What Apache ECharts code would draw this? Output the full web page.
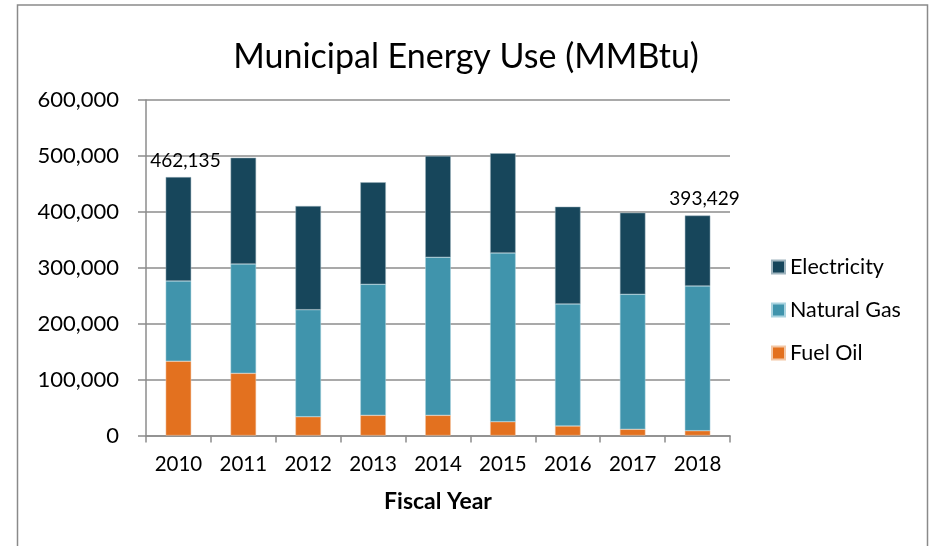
<!DOCTYPE html>
<html>
<head>
<meta charset="utf-8">
<script src="https://cdn.jsdelivr.net/npm/echarts@6/dist/echarts.min.js"></script>
<style>
  html, body { margin: 0; padding: 0; background: #fff; }
  #chart { width: 929px; height: 546px; }
</style>
</head>
<body>
<div id="chart"></div>
<script>
// data
var years = ['2010', '2011', '2012', '2013', '2014', '2015', '2016', '2017', '2018']
var fuelOil = [133000, 111200, 33600, 36100, 36100, 24700, 17000, 11100, 8600]
var naturalGas = [143300, 195500, 191400, 234300, 282600, 301700, 218200, 241400, 258800]
var electricity = [185835, 190100, 185400, 182400, 181100, 178300, 174000, 146000, 126029]
var labelYears = ['2010', '2018'] // totals shown only on these

var yTicks = [0, 100000, 200000, 300000, 400000, 500000, 600000]

var totals = years.map(function(y, i) {
  return fuelOil[i] + naturalGas[i] + electricity[i]
})

var fmt = function(v) {
  return String(v).replace(/\B(?=(\d{3})+(?!\d))/g, ',')
}

var font = 'Lato, "Open Sans", sans-serif'
var gridColor = '#8c8c8c'

var myChart = echarts.init(document.getElementById('chart'))
var option = {
  animation: false,
  backgroundColor: '#fff',
  title: {
    text: 'Municipal Energy Use (MMBtu)',
    left: 461,
    top: 35,
    textAlign: 'center',
    textStyle: { fontFamily: font, fontSize: 34, fontWeight: 'normal', color: '#000' },
  },
  graphic: [
    {
      type: 'rect',
      shape: { x: 17.5, y: 5, width: 910, height: 560 },
      style: { fill: 'none', stroke: '#8a8a8a', lineWidth: 1.5 },
      silent: true,
    },
  ],
  legend: {
    orient: 'vertical',
    left: 771,
    top: 256,
    padding: 0,
    itemWidth: 13,
    itemHeight: 13,
    itemGap: 21,
    icon: 'rect',
    textStyle: { fontFamily: font, fontSize: 21.5, color: '#000' },
    data: ['Electricity', 'Natural Gas', 'Fuel Oil'],
  },
  grid: {
    left: 146,
    right: 199,
    top: 100,
    bottom: 110.5,
  },
  xAxis: {
    type: 'category',
    data: years,
    name: 'Fiscal Year',
    nameLocation: 'middle',
    nameGap: 55,
    nameTextStyle: { fontFamily: font, fontSize: 23, fontWeight: 'bold', color: '#000' },
    axisLine: { lineStyle: { color: gridColor, width: 1.5 } },
    axisTick: { show: true, length: 7, alignWithLabel: false, lineStyle: { color: gridColor, width: 1.5 } },
    axisLabel: { fontFamily: font, fontSize: 20.5, color: '#000', margin: 18 },
  },
  yAxis: {
    type: 'value',
    min: yTicks[0],
    max: yTicks[yTicks.length - 1],
    interval: yTicks[1] - yTicks[0],
    axisLine: { show: true, lineStyle: { color: gridColor, width: 1.5 } },
    axisTick: { show: true, length: 8, lineStyle: { color: gridColor, width: 1.5 } },
    axisLabel: {
      fontFamily: font,
      fontSize: 22,
      color: '#000',
      margin: 27,
      formatter: function(v) { return fmt(v) },
    },
    splitLine: { show: true, lineStyle: { color: gridColor, width: 1.5 } },
  },
  series: [
    {
      name: 'Fuel Oil',
      type: 'bar',
      stack: 'total',
      barWidth: 25.5,
      data: fuelOil,
      itemStyle: { color: '#E3711F', borderColor: '#f3c7a5', borderWidth: 0.5 },
    },
    {
      name: 'Natural Gas',
      type: 'bar',
      stack: 'total',
      barWidth: 25.5,
      data: naturalGas,
      itemStyle: { color: '#4094AC', borderColor: '#a9d3df', borderWidth: 0.5 },
    },
    {
      name: 'Electricity',
      type: 'bar',
      stack: 'total',
      barWidth: 25.5,
      data: electricity,
      itemStyle: { color: '#17465B', borderColor: '#9fb4be', borderWidth: 0.5 },
      label: {
        show: true,
        position: 'top',
        distance: 7,
        offset: [7, 0],
        fontFamily: font,
        fontSize: 19,
        color: '#000',
        formatter: function(p) {
          return labelYears.indexOf(p.name) >= 0 ? fmt(totals[p.dataIndex]) : ''
        },
      },
    },
  ],
}
myChart.setOption(option)
window.addEventListener('resize', function() {
  myChart.resize()
})
</script>
</body>
</html>
